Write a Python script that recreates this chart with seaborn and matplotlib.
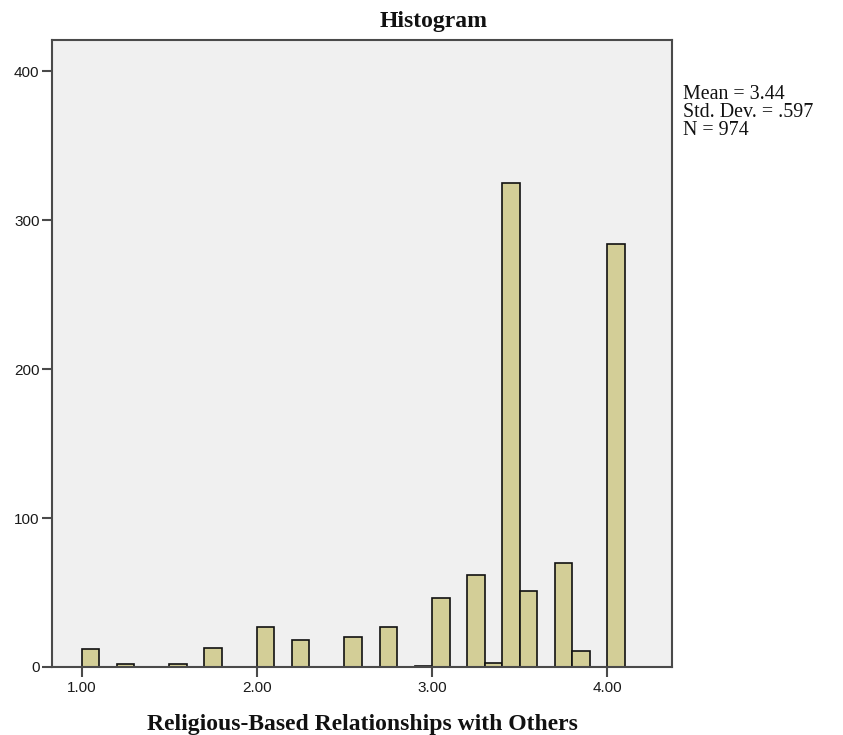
import matplotlib
matplotlib.use("Agg")
import matplotlib.pyplot as plt
import numpy as np
import pandas as pd
import seaborn as sns

# histogram bins of width 0.1, left edges and counts
BIN_LEFT = [1.0, 1.2, 1.5, 1.7, 2.0, 2.2, 2.5, 2.7, 2.9, 3.0, 3.2, 3.3, 3.4, 3.5, 3.7, 3.8, 4.0]
COUNTS = [12, 2, 2, 13, 27, 18, 20, 27, 1, 46, 62, 3, 325, 51, 70, 11, 284]
BIN_WIDTH = 0.1

X_TICKS = [1.0, 2.0, 3.0, 4.0]
X_TICK_LABELS = ["1.00", "2.00", "3.00", "4.00"]
Y_TICKS = [0, 100, 200, 300, 400]

STATS = ["Mean = 3.44", "Std. Dev. = .597", "N = 974"]
TITLE = "Histogram"
XLABEL = "Religious-Based Relationships with Others"

BAR = "#D3CE97"
BG = "#F0F0F0"
SPINE = "#4a4a4a"
SERIF = ["Liberation Serif", "DejaVu Serif"]

sns.set_style("white")
plt.rcParams["font.family"] = ["Liberation Sans", "DejaVu Sans"]

df = pd.DataFrame({"mid": np.array(BIN_LEFT) + BIN_WIDTH / 2, "n": COUNTS})

fig = plt.figure(figsize=(8.43, 7.35), dpi=100)
ax = fig.add_axes([52 / 843, 1 - 667 / 735, (672 - 52) / 843, (667 - 40) / 735])
ax.set_facecolor(BG)

sns.histplot(data=df, x="mid", weights="n", binwidth=BIN_WIDTH,
             binrange=(1.0, 4.1), ax=ax,
             color=BAR, alpha=1, edgecolor="#111111", linewidth=1.2)

ax.set_xlim(0.829, 4.371)
ax.set_ylim(0, 421)
ax.set_xticks(X_TICKS)
ax.set_xticklabels(X_TICK_LABELS)
ax.set_yticks(Y_TICKS)
ax.tick_params(axis="both", direction="out", length=7.5, width=1.5,
               color=SPINE, labelsize=11, labelcolor="#1a1a1a", pad=2.5)
ax.tick_params(axis="y", left=True, pad=1.5)
ax.tick_params(axis="x", bottom=True)
for s in ax.spines.values():
    s.set_color(SPINE)
    s.set_linewidth(1.5)

ax.set_ylabel("")
ax.set_xlabel(XLABEL, fontsize=17, fontweight="bold", family=SERIF,
              labelpad=14, color="#111111")

fig.text(434 / 843, 1 - 22 / 735, TITLE, fontsize=17, fontweight="bold",
         family=SERIF, ha="center", va="center", color="#111111")

fig.text(683 / 843, 1 - 85 / 735, "\n".join(STATS), fontsize=14.4,
         family=SERIF, va="top", ha="left", linespacing=0.92, color="#111111")

fig.savefig("out.png", dpi=100, facecolor="white")
